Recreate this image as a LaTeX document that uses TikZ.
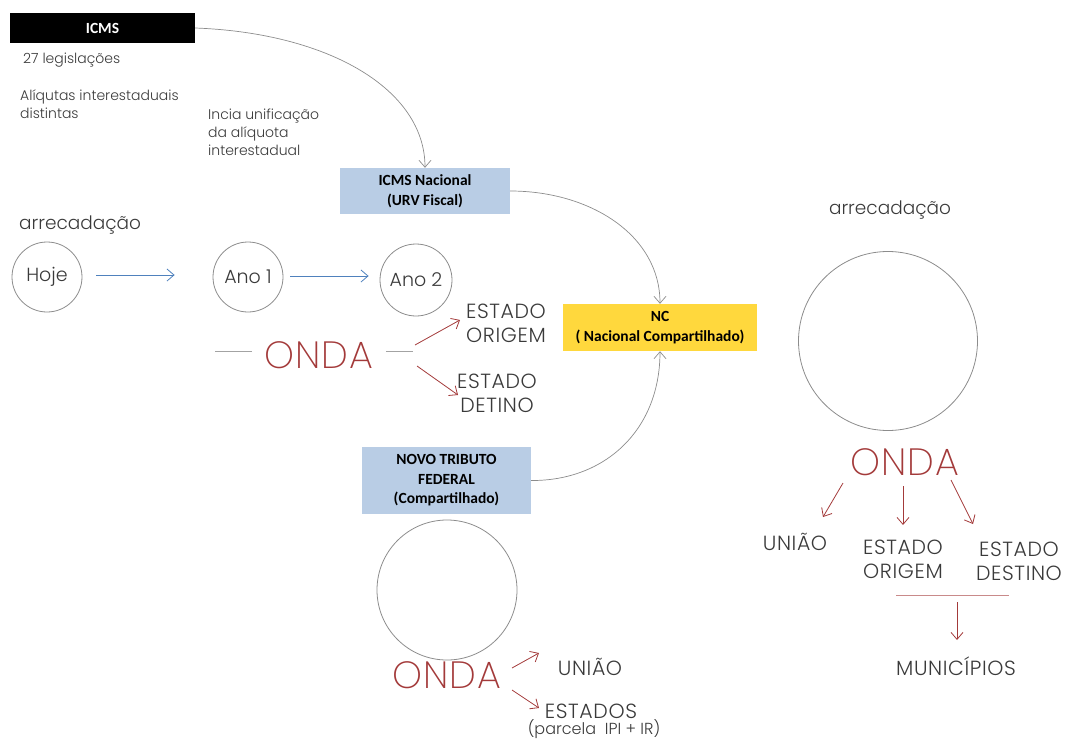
\documentclass[tikz,border=0pt]{standalone}
\usepackage{fontspec}
\IfFontExistsTF{Poppins Light}{\setmainfont{Poppins Light}}{\setmainfont{Poppins}}
\IfFontExistsTF{Poppins ExtraLight}{\newfontfamily\ondafont{Poppins ExtraLight}}{\newfontfamily\ondafont{Poppins Light}}
\newfontfamily\boxfont{Carlito}
\usetikzlibrary{calc,arrows.meta}
\definecolor{txtgray}{HTML}{3A3A3A}
\definecolor{circgray}{HTML}{8C8C8C}
\definecolor{ondared}{HTML}{A33A3A}
\definecolor{arrblue}{HTML}{4F81BD}
\definecolor{boxblue}{HTML}{B9CDE5}
\definecolor{boxyellow}{HTML}{FFD83D}
\definecolor{linepink}{HTML}{C98A8A}
\begin{document}
\begin{tikzpicture}[x=1pt,y=-1pt,
  small/.style={font=\fontsize{14}{18}\selectfont, text=txtgray, inner sep=0, align=left},
  big/.style={font=\fontsize{20.5}{24}\selectfont\addfontfeatures{LetterSpace=3}, text=txtgray, inner sep=0, align=center},
  onda/.style={font=\ondafont\fontsize{38}{40}\selectfont\addfontfeatures{LetterSpace=3}, text=ondared, inner sep=0},
  circ/.style={circle, draw=circgray, line width=0.8pt, inner sep=0, font=\fontsize{19}{24}\selectfont, text=txtgray},
  tbox/.style={font=\boxfont\bfseries\fontsize{15.5}{19.5}\selectfont, align=center, inner sep=0},
  tip/.style={-{Straight Barb[length=7pt,width=12pt]}},
  blarrow/.style={draw=arrblue, tip, line width=0.8pt},
  rarrow/.style={draw=ondared, tip, line width=0.8pt},
  garrow/.style={draw=circgray, tip, line width=0.7pt},
  gline/.style={draw=circgray!80, line width=1pt}]
\useasboundingbox (0,0) rectangle (1066,739);

% top-left
\node[fill=black, text=white, tbox, minimum width=185pt, minimum height=30pt] (icms) at (102.5,28) {ICMS};
\node[small, anchor=west] (leg) at (23,60) {27 legislações};
\node[small, anchor=west] (aliq) at (20,104) {Alíqutas interestaduais\\distintas};
\node[small, anchor=west] (incia) at (208,132) {Incia unificação\\da alíquota\\interestadual};

% boxes
\node[fill=boxblue, tbox, minimum width=170pt, minimum height=46pt] (icmsn) at (425,191) {ICMS Nacional\\(URV Fiscal)};
\node[fill=boxyellow, tbox, minimum width=194pt, minimum height=47pt] (nc) at (660,327.5) {NC\\( Nacional Compartilhado)};
\node[fill=boxblue, tbox, minimum width=169pt, minimum height=67pt] (novo) at (446.5,480.5) {NOVO TRIBUTO\\FEDERAL\\(Compartilhado)};

\draw[garrow] (icms.east) .. controls (330,33) and (425,90) .. (icmsn.north);
\draw[garrow] (icmsn.east) .. controls (590,191) and (660,235) .. (nc.north);
\draw[garrow] (novo.east) .. controls (605,481) and (660,430) .. (nc.south);

% left timeline
\node[big, anchor=west, font=\fontsize{18.5}{24}\selectfont] (arr1) at (19,225) {arrecadação};
\node[circ, minimum size=70pt] (hoje) at (47,277) {Hoje};
\node[circ, minimum size=70pt] (ano1) at (248,277) {Ano 1};
\node[circ, minimum size=72pt] (ano2) at (416,280) {Ano 2};
\draw[blarrow, shorten <=14pt, shorten >=38pt] ([yshift=2pt]hoje.east) -- ([yshift=2pt]hoje.east -| ano1.west);
\draw[blarrow, shorten <=7pt, shorten >=11pt] ([yshift=1pt]ano1.east) -- ([yshift=1pt]ano1.east -| ano2.west);

% middle ONDA
\node[onda] (onda1) at (319,355) {ONDA};
\draw[gline] ($(onda1.west)+(-12,-4)$) -- ($(onda1.west)+(-49,-4)$);
\draw[gline] ($(onda1.east)+(12,-4)$) -- ($(onda1.east)+(39,-4)$);
\node[big] (eo1) at (506,323) {ESTADO\\ORIGEM};
\node[big] (ed1) at (497,393) {ESTADO\\DETINO};
\coordinate (r1a) at (415,345);
\coordinate (r1b) at (460,320);
\coordinate (r2a) at (417,366);
\coordinate (r2b) at (458,395);
\draw[rarrow] (r1a) -- (r1b);
\draw[rarrow] (r2a) -- (r2b);

% bottom circle and ONDA
\node[circle, draw=circgray, line width=0.8pt, minimum size=140pt, inner sep=0] (circb) at (447,590) {};
\node[onda] (onda2) at (447,675) {ONDA};
\node[big] (uniao2) at (590,667) {UNIÃO};
\node[big] (estados) at (591,711) {ESTADOS};
\node[big, font=\fontsize{16}{18}\selectfont] (parcela) at (594,729) {(parcela\ \ IPI + IR)};
\coordinate (r3a) at (512,668);
\coordinate (r3b) at (539,653);
\coordinate (r4a) at (512,690);
\coordinate (r4b) at (539,708);
\draw[rarrow] (r3a) -- (r3b);
\draw[rarrow] (r4a) -- (r4b);

% right part
\node[big, font=\fontsize{18.5}{24}\selectfont] (arr2) at (890,210) {arrecadação};
\node[circle, draw=circgray, line width=0.8pt, minimum size=179pt, inner sep=0] (circr) at (888,341) {};
\node[onda] (onda3) at (905,462) {ONDA};
\node[big] (uniao3) at (795,542) {UNIÃO};
\node[big] (eo3) at (903,559) {ESTADO\\ORIGEM};
\node[big] (ed3) at (1019,561) {ESTADO\\DESTINO};
\node[big] (mun) at (956,666) {MUNICÍPIOS};
\coordinate (r5a) at (843,483);
\coordinate (r5b) at (823,517);
\coordinate (r6a) at (903,486);
\coordinate (r6b) at (903,525);
\coordinate (r7a) at (951,480);
\coordinate (r7b) at (973,524);
\draw[rarrow] (r5a) -- (r5b);
\draw[rarrow] (r6a) -- (r6b);
\draw[rarrow] (r7a) -- (r7b);
\coordinate (la) at (896,595);
\coordinate (lb) at (1009,595);
\draw[draw=linepink, line width=1pt] (la) -- (lb);
\coordinate (r8a) at (957,602);
\coordinate (r8b) at (957,640);
\draw[rarrow] (r8a) -- (r8b);
\end{tikzpicture}
\end{document}
